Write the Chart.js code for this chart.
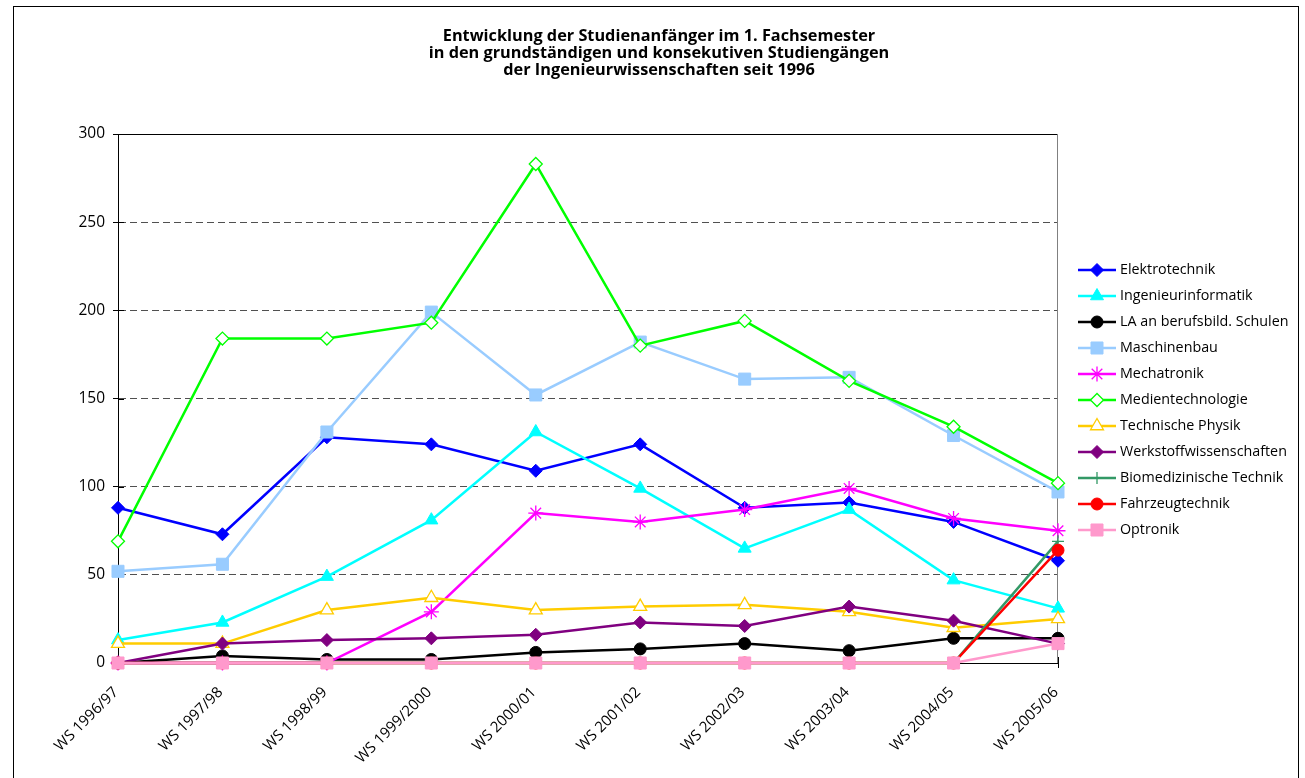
<!DOCTYPE html>
<html lang="de">
<head>
<meta charset="utf-8">
<title>Entwicklung der Studienanfänger</title>
<script src="https://cdn.jsdelivr.net/npm/chart.js@4.4.1/dist/chart.umd.min.js"></script>
<style>
  html, body { margin: 0; padding: 0; background: #fff; }
  #wrap { width: 1305px; height: 778px; position: relative; }
</style>
</head>
<body>
<div id="wrap"><canvas id="chart"></canvas></div>
<script>
// Wintersemester
const categories = ["WS 1996/97", "WS 1997/98", "WS 1998/99", "WS 1999/2000", "WS 2000/01",
  "WS 2001/02", "WS 2002/03", "WS 2003/04", "WS 2004/05", "WS 2005/06"];

const yTicks = [0, 50, 100, 150, 200, 250, 300];

const titleLines = [
  "Entwicklung der Studienanfänger im 1. Fachsemester",
  "in den grundständigen und konsekutiven Studiengängen",
  "der Ingenieurwissenschaften seit 1996"
];

// Studienanfaenger je Studiengang
const elektrotechnik = [88, 73, 128, 124, 109, 124, 88, 91, 80, 58];
const ingenieurinformatik = [13, 23, 49, 81, 131, 99, 65, 87, 47, 31];
const laBerufsbild = [0, 4, 2, 2, 6, 8, 11, 7, 14, 14];
const maschinenbau = [52, 56, 131, 199, 152, 182, 161, 162, 129, 97];
const mechatronik = [0, 0, 0, 29, 85, 80, 87, 99, 82, 75];
const medientechnologie = [69, 184, 184, 193, 283, 180, 194, 160, 134, 102];
const technischePhysik = [11, 11, 30, 37, 30, 32, 33, 29, 20, 25];
const werkstoffwissenschaften = [0, 11, 13, 14, 16, 23, 21, 32, 24, 11];
const biomedizin = [0, 0, 0, 0, 0, 0, 0, 0, 0, 69];
const fahrzeugtechnik = [0, 0, 0, 0, 0, 0, 0, 0, 0, 64];
const optronik = [0, 0, 0, 0, 0, 0, 0, 0, 0, 11];

const series = [
  { label: "Elektrotechnik", data: elektrotechnik, color: "#0000FF", point: "rectRot", radius: 6.5, filled: true },
  { label: "Ingenieurinformatik", data: ingenieurinformatik, color: "#00FFFF", point: "triangle", radius: 7.5, filled: true },
  { label: "LA an berufsbild. Schulen", data: laBerufsbild, color: "#000000", point: "circle", radius: 6, filled: true },
  { label: "Maschinenbau", data: maschinenbau, color: "#99CCFF", point: "rect", radius: 8.5, filled: true },
  { label: "Mechatronik", data: mechatronik, color: "#FF00FF", point: "star", radius: 7.5, filled: false },
  { label: "Medientechnologie", data: medientechnologie, color: "#00FF00", point: "rectRot", radius: 6.5, filled: false },
  { label: "Technische Physik", data: technischePhysik, color: "#FFCC00", point: "triangle", radius: 7.5, filled: false },
  { label: "Werkstoffwissenschaften", data: werkstoffwissenschaften, color: "#800080", point: "rectRot", radius: 6.5, filled: true },
  { label: "Biomedizinische Technik", data: biomedizin, color: "#339966", point: "cross", radius: 6, filled: false },
  { label: "Fahrzeugtechnik", data: fahrzeugtechnik, color: "#FF0000", point: "circle", radius: 6, filled: true },
  { label: "Optronik", data: optronik, color: "#FF99CC", point: "rect", radius: 8.5, filled: true }
];

const FONT = "'Open Sans', 'Noto Sans', sans-serif";

// excel draws the last series on top, chart.js the first -> reverse order
const datasets = series.map((s, i) => ({
  label: s.label,
  data: s.data,
  order: series.length - i,
  clip: false,
  borderColor: s.color,
  borderWidth: 2.5,
  tension: 0,
  fill: false,
  pointStyle: s.point,
  pointRadius: s.radius,
  pointHoverRadius: s.radius,
  pointBackgroundColor: s.filled ? s.color : "#FFFFFF",
  pointBorderColor: s.color,
  pointBorderWidth: s.filled ? 1 : 1.3
}));

function drawMarker(ctx, ds, x, y) {
  ctx.save();
  ctx.fillStyle = ds.pointBackgroundColor;
  ctx.strokeStyle = ds.pointBorderColor;
  ctx.lineWidth = ds.pointBorderWidth;
  if (Chart.helpers && Chart.helpers.drawPoint) {
    Chart.helpers.drawPoint(ctx, { pointStyle: ds.pointStyle, radius: ds.pointRadius, rotation: 0, borderWidth: ds.pointBorderWidth }, x, y);
  } else {
    ctx.beginPath();
    ctx.arc(x, y, ds.pointRadius * 0.8, 0, Math.PI * 2);
    ctx.fill();
    ctx.stroke();
  }
  ctx.restore();
}

const framePlugin = {
  id: "frame",
  beforeDraw(chart) {
    const ctx = chart.ctx;
    ctx.save();
    ctx.fillStyle = "#FFFFFF";
    ctx.fillRect(0, 0, chart.width, chart.height);
    ctx.strokeStyle = "#000000";
    ctx.lineWidth = 1;
    ctx.strokeRect(13.5, 6.5, 1285, chart.height + 20);
    ctx.restore();
  },
  beforeDatasetsDraw(chart) {
    const { ctx, chartArea: a } = chart;
    const xs = chart.scales.x, ys = chart.scales.y;
    ctx.save();
    ctx.lineWidth = 1;
    ctx.strokeStyle = "#000000";
    ctx.beginPath();
    ctx.moveTo(a.left, a.top + 0.5);
    ctx.lineTo(a.right, a.top + 0.5);
    ctx.stroke();
    // tick marks cross the axes (inner half)
    ctx.beginPath();
    ys.ticks.forEach(t => {
      const y = Math.round(ys.getPixelForValue(t.value)) + 0.5;
      ctx.moveTo(a.left, y);
      ctx.lineTo(a.left + 6, y);
    });
    xs.ticks.forEach((t, i) => {
      const x = Math.round(xs.getPixelForTick(i)) + 0.5;
      ctx.moveTo(x, a.bottom);
      ctx.lineTo(x, a.bottom - 6);
    });
    ctx.stroke();
    ctx.strokeStyle = "#808080";
    ctx.beginPath();
    ctx.moveTo(a.right - 0.5, a.top);
    ctx.lineTo(a.right - 0.5, a.bottom);
    ctx.stroke();

    // category labels, rotated 45 deg, ending just under each tick
    ctx.fillStyle = "#000000";
    ctx.font = "15px " + FONT;
    ctx.textAlign = "right";
    ctx.textBaseline = "alphabetic";
    xs.getLabels().forEach((lbl, i) => {
      const x = xs.getPixelForTick(i);
      ctx.save();
      ctx.translate(x + 1, a.bottom + 30);
      ctx.rotate(-Math.PI / 4);
      ctx.fillText(lbl, 0, 0);
      ctx.restore();
    });
    ctx.restore();
  },
  afterDraw(chart) {
    const ctx = chart.ctx;
    ctx.save();
    // title
    ctx.fillStyle = "#000000";
    ctx.font = "bold 16.3px " + FONT;
    ctx.textAlign = "center";
    ctx.textBaseline = "alphabetic";
    titleLines.forEach((t, i) => ctx.fillText(t, 659, 41 + i * 17));

    // legend: line + marker + text
    ctx.font = "14.3px " + FONT;
    ctx.textAlign = "left";
    ctx.textBaseline = "middle";
    chart.data.datasets.forEach((ds, i) => {
      const y = 270 + i * 26;
      ctx.strokeStyle = ds.borderColor;
      ctx.lineWidth = 2.5;
      ctx.beginPath();
      ctx.moveTo(1078, y);
      ctx.lineTo(1116, y);
      ctx.stroke();
      drawMarker(ctx, ds, 1097, y);
      ctx.fillStyle = "#000000";
      ctx.fillText(ds.label, 1120, y);
    });
    ctx.restore();
  }
};

new Chart(document.getElementById("chart"), {
  type: "line",
  data: { labels: categories, datasets: datasets },
  options: {
    responsive: true,
    maintainAspectRatio: false,
    animation: false,
    layout: { padding: { top: 134, right: 247, bottom: 0, left: 0 } },
    plugins: {
      legend: { display: false },
      title: { display: false },
      tooltip: { enabled: false }
    },
    scales: {
      x: {
        type: "category",
        offset: false,
        grid: { drawOnChartArea: false, drawTicks: true, tickLength: 5, color: "#000000" },
        border: { color: "#000000", width: 1 },
        ticks: { display: false, autoSkip: false },
        afterFit(scale) { scale.height = 115; }
      },
      y: {
        min: 0,
        max: 300,
        afterBuildTicks(scale) { scale.ticks = yTicks.map(v => ({ value: v })); },
        grid: { color: "#505050", lineWidth: 1, tickLength: 5, tickColor: "#000000", tickBorderDash: [] },
        border: { color: "#000000", width: 1, dash: [7, 4] },
        ticks: {
          padding: 8,
          color: "#000000",
          font: { family: FONT, size: 15.5 }
        },
        afterFit(scale) { scale.width = 118; }
      }
    }
  },
  plugins: [framePlugin]
});
</script>
</body>
</html>
